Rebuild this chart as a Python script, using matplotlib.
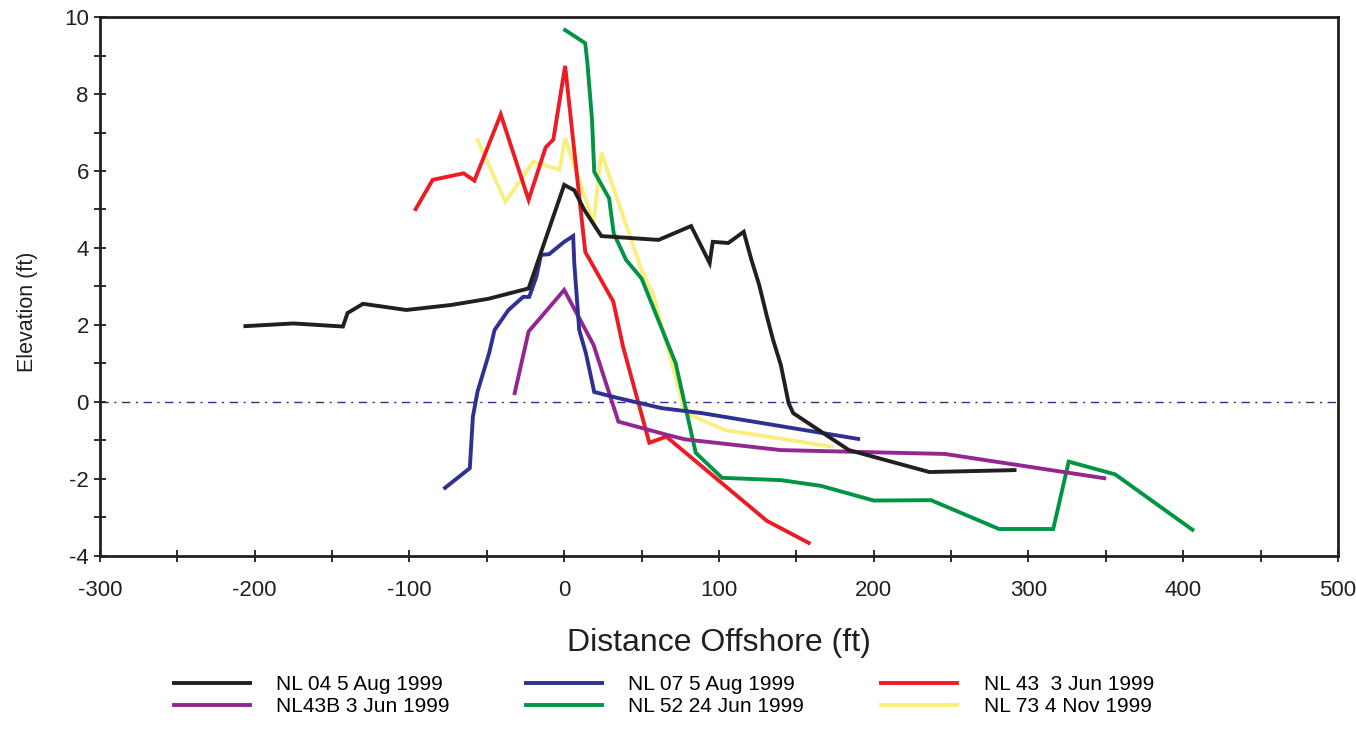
import matplotlib
matplotlib.use('Agg')
import matplotlib.pyplot as plt
from matplotlib.ticker import MultipleLocator

plt.rcParams['font.family'] = ['Liberation Sans', 'DejaVu Sans']
plt.rcParams['axes.unicode_minus'] = False

# profile data (distance offshore ft, elevation ft)
nl04_x = [-206, -175, -143, -140, -130, -102, -73, -49, -23, 0, 6.5, 13, 24, 61, 82,
          94, 96, 106, 116, 121, 126, 131, 135, 140, 145, 148, 184, 236, 291]
nl04_y = [1.97, 2.04, 1.96, 2.31, 2.55, 2.39, 2.52, 2.68, 2.95, 5.64, 5.5, 4.99, 4.31, 4.21, 4.57,
          3.61, 4.16, 4.13, 4.42, 3.69, 3.04, 2.22, 1.61, 0.96, -0.03, -0.29, -1.25, -1.82, -1.77]

nl07_x = [-77, -61, -59, -56, -48.5, -45, -36, -26.5, -22.6, -18, -15, -9.7, 0, 5.8,
          6.5, 9.7, 14, 19.4, 35, 63, 89, 190]
nl07_y = [-2.23, -1.72, -0.38, 0.27, 1.27, 1.87, 2.39, 2.73, 2.73, 3.25, 3.82, 3.84, 4.16, 4.31,
          3.61, 1.87, 1.27, 0.26, 0.10, -0.16, -0.29, -0.96]

nl43_x = [-96, -85, -65, -58, -41, -23, -12, -7, 0.6, 6, 13.6, 31.7, 38, 55, 66, 131, 158]
nl43_y = [5.01, 5.77, 5.94, 5.75, 7.47, 5.25, 6.61, 6.82, 8.73, 6.72, 3.90, 2.61, 1.44,
          -1.06, -0.90, -3.09, -3.66]

nl43b_x = [-32, -23, 0, 19, 34, 35, 67, 78, 140, 246, 349]
nl43b_y = [0.23, 1.83, 2.91, 1.48, -0.38, -0.51, -0.86, -0.97, -1.25, -1.35, -1.98]

nl52_x = [0.6, 13.6, 15, 18, 19.4, 29, 32, 40, 50, 72, 85, 102, 140, 166, 200, 237,
          281, 316, 326, 356, 406]
nl52_y = [9.66, 9.32, 8.8, 7.32, 5.98, 5.29, 4.38, 3.69, 3.21, 1.01, -1.32, -1.97, -2.03,
          -2.18, -2.56, -2.55, -3.30, -3.30, -1.55, -1.88, -3.32]

nl73_x = [-56, -38, -20, -3, 0.6, 19, 24, 30, 50, 58, 78, 89, 104, 173]
nl73_y = [6.81, 5.20, 6.24, 6.03, 6.85, 4.64, 6.48, 5.77, 3.43, 2.74, -0.25, -0.47, -0.73, -1.16]

series = [
    (nl04_x, nl04_y, '#231f20', 'NL 04 5 Aug 1999'),
    (nl43b_x, nl43b_y, '#92278f', 'NL43B 3 Jun 1999'),
    (nl07_x, nl07_y, '#2e3192', 'NL 07 5 Aug 1999'),
    (nl52_x, nl52_y, '#009444', 'NL 52 24 Jun 1999'),
    (nl43_x, nl43_y, '#ed1c24', 'NL 43  3 Jun 1999'),
    (nl73_x, nl73_y, '#fbee80', 'NL 73 4 Nov 1999'),
]

fig = plt.figure(figsize=(13.56, 7.3), dpi=100)
ax = fig.add_axes([0.0737, 0.2384, 0.9130, 0.7383])

ax.axhline(0, color='#2e3192', linewidth=1.0, linestyle=(0, (6, 4, 1.5, 4)), zorder=1)

# draw order: yellow and green behind
draw_order = [5, 3, 4, 1, 2, 0]
lines = {}
for i in draw_order:
    x, y, c, lab = series[i]
    ln, = ax.plot(x, y, color=c, linewidth=2.8, label=lab, solid_joinstyle='miter', zorder=2)
    lines[i] = ln

ax.set_xlim(-300, 500)
ax.set_ylim(-4, 10)
ax.xaxis.set_major_locator(MultipleLocator(100))
ax.xaxis.set_minor_locator(MultipleLocator(50))
ax.yaxis.set_major_locator(MultipleLocator(2))
ax.yaxis.set_minor_locator(MultipleLocator(1))
ax.tick_params(which='both', direction='inout', width=1.3, length=8, labelsize=16,
               colors='#231f20')
ax.tick_params(axis='x', pad=13)
ax.tick_params(axis='y', pad=4)
for s in ax.spines.values():
    s.set_linewidth(2.0)
    s.set_color('#231f20')

ax.set_xlabel('Distance Offshore (ft)', fontsize=23, color='#231f20', labelpad=20)
ax.set_ylabel('Elevation (ft)', fontsize=15.5, color='#231f20')
ax.yaxis.set_label_coords(-0.050, 0.453)

fig.legend([lines[i] for i in range(6)], [series[i][3] for i in range(6)],
           loc='center', bbox_to_anchor=(0.4895, 0.047), ncol=3, frameon=False,
           fontsize=15, handlelength=3.65, handletextpad=1.25, columnspacing=3.7,
           labelspacing=0.15)

fig.savefig('out.png', dpi=100)
